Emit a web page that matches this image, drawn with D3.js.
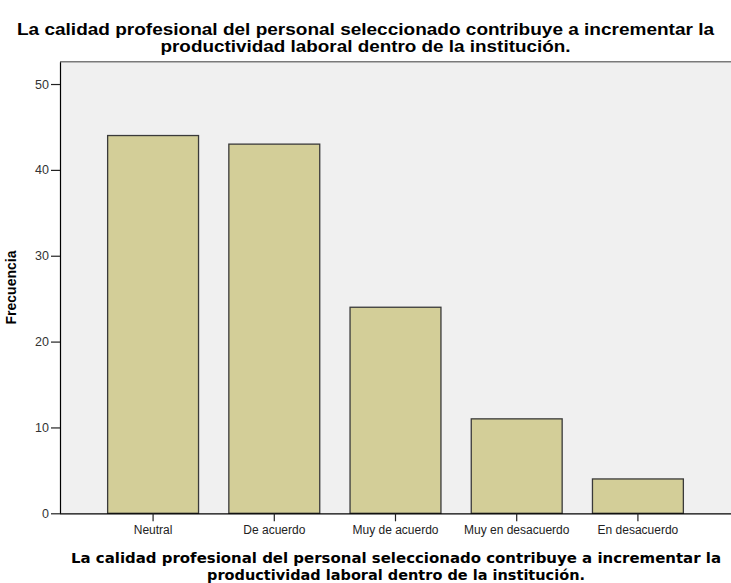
<!DOCTYPE html>
<html>
<head>
<meta charset="utf-8">
<script src="https://cdn.jsdelivr.net/npm/d3@7/dist/d3.min.js"></script>
<style>
  html, body { margin: 0; padding: 0; background: #ffffff; }
  svg { display: block; }
</style>
</head>
<body>
<svg id="chart" width="731" height="583"></svg>
<script>
const categories = ["Neutral", "De acuerdo", "Muy de acuerdo", "Muy en desacuerdo", "En desacuerdo"];
const frecuencia = [44, 43, 24, 11, 4];
const yTicks = [0, 10, 20, 30, 40, 50];
const titleLines = ["La calidad profesional del personal seleccionado contribuye a incrementar la", "productividad laboral dentro de la institución."];
const xTitleLines = ["La calidad profesional del personal seleccionado contribuye a incrementar la", "productividad laboral dentro de la institución."];
const yTitle = "Frecuencia";

const svg = d3.select("#chart");
const plot = { left: 60, right: 731, top: 61.7, bottom: 513.3 };

const x = d3.scaleBand()
  .domain(categories)
  .range([plot.left, plot.right])
  .paddingInner(0.25)
  .paddingOuter(0.393);

const y = d3.scaleLinear()
  .domain([0, 52.6])
  .range([plot.bottom, plot.top]);

// plot background
svg.append("rect")
  .attr("x", plot.left).attr("y", plot.top)
  .attr("width", plot.right - plot.left + 5).attr("height", plot.bottom - plot.top)
  .attr("fill", "#f0f0f0");

// top frame line
svg.append("line")
  .attr("x1", plot.left).attr("x2", plot.right)
  .attr("y1", plot.top).attr("y2", plot.top)
  .attr("stroke", "#7a7a7a").attr("stroke-width", 1.4);

// bars
svg.append("g").selectAll("rect")
  .data(categories.map((c, i) => ({ c, v: frecuencia[i] })))
  .join("rect")
  .attr("x", d => x(d.c))
  .attr("y", d => y(d.v))
  .attr("width", x.bandwidth())
  .attr("height", d => y(0) - y(d.v))
  .attr("fill", "#d3ce98")
  .attr("stroke", "#3a3a3a")
  .attr("stroke-width", 1.3);

// y axis
const yAxis = svg.append("g")
  .attr("transform", `translate(${plot.left},0)`)
  .call(d3.axisLeft(y).tickValues(yTicks).tickSize(9).tickSizeOuter(0).tickPadding(2));
yAxis.select(".domain").attr("stroke", "#000").attr("stroke-width", 1.2);
yAxis.selectAll(".tick line").attr("stroke", "#222").attr("stroke-width", 1.2);
yAxis.selectAll(".tick text")
  .attr("font-family", "Liberation Sans, Arial, sans-serif")
  .attr("font-size", 12.5).attr("fill", "#333");

// x axis
const xAxis = svg.append("g")
  .attr("transform", `translate(0,${plot.bottom})`)
  .call(d3.axisBottom(x).tickSize(8).tickSizeOuter(0).tickPadding(4));
xAxis.select(".domain").attr("stroke", "#000").attr("stroke-width", 1.2)
  .attr("d", `M${plot.left},0.5H${plot.right}`);
xAxis.selectAll(".tick line").attr("stroke", "#222").attr("stroke-width", 1.2);
xAxis.selectAll(".tick text")
  .attr("font-family", "Liberation Sans, Arial, sans-serif")
  .attr("font-size", 12).attr("fill", "#222");

// title
const titleWidths = [697, 410];
const titleBase = [35, 52];
titleLines.forEach((t, i) => {
  svg.append("text")
    .attr("x", 365.5).attr("y", titleBase[i])
    .attr("text-anchor", "middle")
    .attr("font-family", "Liberation Sans, Arial, sans-serif")
    .attr("font-weight", "bold")
    .attr("font-size", 16.5)
    .attr("fill", "#000")
    .attr("textLength", titleWidths[i])
    .attr("lengthAdjust", "spacingAndGlyphs")
    .text(t);
});

// x title
const xtWidths = [650, 378];
const xtBase = [563, 580];
xTitleLines.forEach((t, i) => {
  svg.append("text")
    .attr("x", 396).attr("y", xtBase[i])
    .attr("text-anchor", "middle")
    .attr("font-family", "DejaVu Sans, Verdana, sans-serif")
    .attr("font-weight", "bold")
    .attr("font-size", 14.5)
    .attr("fill", "#000")
    .attr("textLength", xtWidths[i])
    .attr("lengthAdjust", "spacingAndGlyphs")
    .text(t);
});

// y title
svg.append("text")
  .attr("transform", `translate(16,${(plot.top + plot.bottom) / 2}) rotate(-90)`)
  .attr("text-anchor", "middle")
  .attr("font-family", "Liberation Sans, Arial, sans-serif")
  .attr("font-weight", "bold")
  .attr("font-size", 14)
  .attr("fill", "#000")
  .text(yTitle);
</script>
</body>
</html>
